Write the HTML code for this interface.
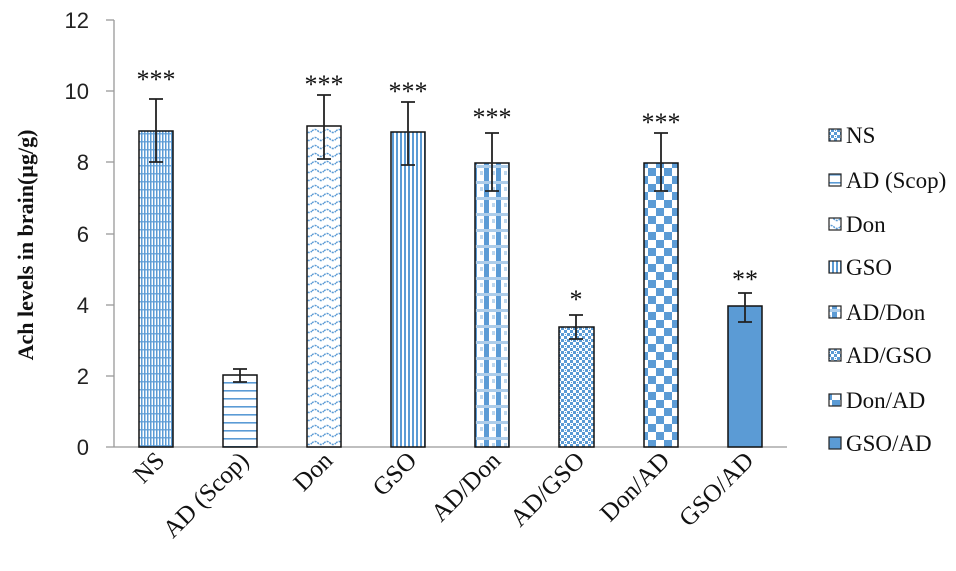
<!DOCTYPE html>
<html><head><meta charset="utf-8"><style>
body{margin:0;background:#fff}
svg{display:block}
.t{font-family:"Liberation Sans",sans-serif;font-size:22px;fill:#222}
.s{font-family:"Liberation Serif",serif;fill:#111}
</style></head><body>
<svg width="956" height="571" viewBox="0 0 956 571" xmlns="http://www.w3.org/2000/svg">
<defs>
<pattern id="pNS" width="6" height="8" patternUnits="userSpaceOnUse">
<rect width="6" height="8" fill="#fff"/>
<rect x="0" width="1.5" height="8" fill="#5b9bd5"/><rect x="3" width="1.5" height="8" fill="#5b9bd5"/>
<rect y="5" width="6" height="1.5" fill="#5b9bd5" opacity="0.8"/>
</pattern>
<pattern id="pAD" width="10" height="8" patternUnits="userSpaceOnUse">
<rect width="10" height="8" fill="#fff"/><rect y="6" width="10" height="1.6" fill="#5b9bd5"/>
</pattern>
<pattern id="pDon" width="12" height="8" patternUnits="userSpaceOnUse">
<rect width="12" height="8" fill="#fff"/>
<path d="M0 3 Q3 0 6 3 T12 3" stroke="#5b9bd5" stroke-width="1.5" fill="none" stroke-dasharray="2 1"/>
</pattern>
<pattern id="pGSO" width="4" height="4" patternUnits="userSpaceOnUse">
<rect width="4" height="4" fill="#fff"/><rect width="2" height="4" fill="#5b9bd5"/>
</pattern>
<pattern id="pADDon" width="12" height="16" patternUnits="userSpaceOnUse">
<rect width="12" height="16" fill="#fff"/>
<rect x="4" width="5" height="16" fill="#5b9bd5"/>
<rect y="5" width="12" height="3" fill="#fff"/>
<rect y="5" width="12" height="3" fill="#5b9bd5" opacity="0.5"/>
<rect x="0" y="11" width="3" height="4" fill="#5b9bd5" opacity="0.4"/>
</pattern>
<pattern id="pADGSO" width="6" height="6" patternUnits="userSpaceOnUse">
<rect width="6" height="6" fill="#fff"/>
<rect width="3" height="3" fill="#5b9bd5"/><rect x="3" y="3" width="3" height="3" fill="#5b9bd5"/>
<rect x="1" y="4" width="1" height="1" fill="#5b9bd5"/>
</pattern>
<pattern id="pDonAD" width="16" height="16" patternUnits="userSpaceOnUse">
<rect width="16" height="16" fill="#fff"/>
<rect width="8" height="8" fill="#5b9bd5"/><rect x="8" y="8" width="8" height="8" fill="#5b9bd5"/>
</pattern>
</defs>

<line x1="114" y1="20" x2="114" y2="447" stroke="#999" stroke-width="1.3"/>
<line x1="106" y1="447" x2="787" y2="447" stroke="#999" stroke-width="1.3"/>
<g stroke="#999" stroke-width="1.3">
<line x1="106" y1="20" x2="114" y2="20"/><line x1="106" y1="91" x2="114" y2="91"/>
<line x1="106" y1="162" x2="114" y2="162"/><line x1="106" y1="234" x2="114" y2="234"/>
<line x1="106" y1="305" x2="114" y2="305"/><line x1="106" y1="376" x2="114" y2="376"/>
</g>
<g class="t" text-anchor="end">
<text x="89" y="28">12</text><text x="89" y="99">10</text><text x="89" y="170">8</text>
<text x="89" y="242">6</text><text x="89" y="313">4</text><text x="89" y="384">2</text><text x="89" y="455">0</text>
</g>
<text class="s" font-size="22" font-weight="bold" text-anchor="middle" transform="translate(33,245) rotate(-90)">Ach levels in brain(µg/g)</text>

<g stroke="#111" stroke-width="1.5">
<rect x="139" y="131" width="34" height="316" fill="url(#pNS)"/>
<rect x="223" y="375" width="34" height="72" fill="url(#pAD)"/>
<rect x="307" y="126" width="34" height="321" fill="url(#pDon)"/>
<rect x="391" y="132" width="34" height="315" fill="url(#pGSO)"/>
<rect x="475" y="163" width="34" height="284" fill="url(#pADDon)"/>
<rect x="559" y="327" width="35" height="120" fill="url(#pADGSO)"/>
<rect x="644" y="163" width="34" height="284" fill="url(#pDonAD)"/>
<rect x="728" y="306" width="34" height="141" fill="#5b9bd5"/>
</g>
<g stroke="#222" stroke-width="1.8">
<path d="M156 99V162M149 99H163M149 162H163"/>
<path d="M240 369V382M233 369H247M233 382H247"/>
<path d="M324 95V159M317 95H331M317 159H331"/>
<path d="M408 102V165M401 102H415M401 165H415"/>
<path d="M492 133V191M485 133H499M485 191H499"/>
<path d="M576 315V339M569 315H583M569 339H583"/>
<path d="M661 133V191M654 133H668M654 191H668"/>
<path d="M745 293V322M738 293H752M738 322H752"/>
</g>
<g class="s" font-size="26" text-anchor="middle">
<text x="156" y="88">***</text><text x="324" y="93">***</text><text x="408" y="100">***</text>
<text x="492" y="126">***</text><text x="576" y="308">*</text><text x="661" y="131">***</text>
<text x="745" y="288">**</text>
</g>

<g class="s" font-size="25" text-anchor="end">
<text transform="translate(166,462) rotate(-45)">NS</text>
<text transform="translate(250,462) rotate(-45)">AD (Scop)</text>
<text transform="translate(334,462) rotate(-45)">Don</text>
<text transform="translate(418,462) rotate(-45)">GSO</text>
<text transform="translate(502,462) rotate(-45)">AD/Don</text>
<text transform="translate(586,462) rotate(-45)">AD/GSO</text>
<text transform="translate(671,462) rotate(-45)">Don/AD</text>
<text transform="translate(755,462) rotate(-45)">GSO/AD</text>
</g>

<g stroke="#222" stroke-width="1.2">
<rect x="829" y="129" width="12" height="12" fill="url(#pADGSO)"/>
<rect x="829" y="174" width="12" height="12" fill="url(#pAD)"/>
<rect x="829" y="218" width="12" height="12" fill="url(#pDon)"/>
<rect x="829" y="261" width="12" height="12" fill="url(#pGSO)"/>
<rect x="829" y="306" width="12" height="12" fill="url(#pADDon)"/>
<rect x="829" y="349" width="12" height="12" fill="url(#pADGSO)"/>
<rect x="829" y="394" width="12" height="12" fill="url(#pDonAD)"/>
<rect x="829" y="437" width="12" height="12" fill="#5b9bd5"/>
</g>
<g class="s" font-size="23">
<text x="846" y="143">NS</text><text x="846" y="188">AD (Scop)</text>
<text x="846" y="232">Don</text><text x="846" y="275">GSO</text>
<text x="846" y="320">AD/Don</text><text x="846" y="363">AD/GSO</text>
<text x="846" y="408">Don/AD</text><text x="846" y="451">GSO/AD</text>
</g>
</svg>
</body></html>
